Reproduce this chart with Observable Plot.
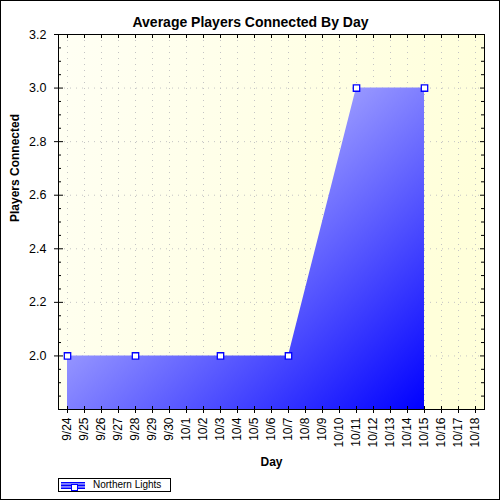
<!DOCTYPE html>
<html>
<head>
<meta charset="utf-8">
<script src="https://cdn.jsdelivr.net/npm/d3@7"></script>
<script src="https://cdn.jsdelivr.net/npm/@observablehq/plot@0.6"></script>
<style>
  body { margin: 0; background: #fff; font-family: "Liberation Sans", Arial, sans-serif; }
  #wrap { width: 498px; height: 498px; border: 1px solid #000; position: relative; overflow: hidden; background: #fff; }
  #chart svg { display: block; }
  #legend { position: absolute; left: 57px; top: 477px; width: 111px; height: 12px; border: 1px solid #000; background: #fff; }
  #legend .sw { position: absolute; left: 2px; top: 3px; width: 24px; height: 7px;
    background: linear-gradient(to bottom, #0000ff 0px, #0000ff 1px, #8f8fff 1px, #5a5aff 3px, #0000ff 3px, #0000ff 4px, #8f8fff 4px, #5a5aff 6px, #0000ff 6px); }
  #legend .mk { position: absolute; left: 10px; top: 2px; width: 5px; height: 5px; background: #fff; border: 1.3px solid #0000ff; }
  #legend .tx { position: absolute; left: 34px; top: 0px; font-size: 10px; line-height: 12px; color: #000; white-space: nowrap; }
</style>
</head>
<body>
<div id="wrap">
  <div id="chart"></div>
  <div id="legend"><div class="sw"><div class="mk"></div></div><div class="tx">Northern Lights</div></div>
</div>
<script>
const days = ["9/24","9/25","9/26","9/27","9/28","9/29","9/30","10/1","10/2","10/3","10/4","10/5","10/6","10/7","10/8","10/9","10/10","10/11","10/12","10/13","10/14","10/15","10/16","10/17","10/18"];
const pointDays = ["9/24","9/28","10/3","10/7","10/11","10/15"];
const playerValues = [2.0, 2.0, 2.0, 2.0, 3.0, 3.0];
const yDomain = [1.8, 3.2];
const yMajorTicks = [2.0, 2.2, 2.4, 2.6, 2.8, 3.0, 3.2];
const yMinorTicks = [1.85, 1.9, 1.95, 2.05, 2.1, 2.15, 2.25, 2.3, 2.35, 2.45, 2.5, 2.55, 2.65, 2.7, 2.75, 2.85, 2.9, 2.95, 3.05, 3.1, 3.15];

const data = pointDays.map((d, i) => ({day: d, value: playerValues[i]}));

const W = 498, H = 475, ML = 57, MR = 15, MT = 33, MB = 67;
const FW = W - ML - MR, FH = H - MT - MB;

const defsMark = () => {
  const defs = d3.create("svg:defs");
  const ag = defs.append("linearGradient").attr("id", "areaGrad")
    .attr("x1", 0).attr("y1", 0).attr("x2", 1).attr("y2", 1);
  ag.append("stop").attr("offset", "0%").attr("stop-color", "#ffffff");
  ag.append("stop").attr("offset", "100%").attr("stop-color", "#0000ff");
  const bg = defs.append("linearGradient").attr("id", "bgGrad")
    .attr("x1", 0).attr("y1", 0).attr("x2", 1).attr("y2", 0.3);
  bg.append("stop").attr("offset", "0%").attr("stop-color", "#fffff4");
  bg.append("stop").attr("offset", "100%").attr("stop-color", "#ffffda");
  return defs.node();
};

const grid = {stroke: "#c4c4c4", strokeDasharray: "1,5", strokeWidth: 1};

const chart = Plot.plot({
  width: W, height: H,
  marginLeft: ML, marginRight: MR, marginTop: MT, marginBottom: MB,
  style: {fontFamily: "'Liberation Sans', Arial, sans-serif", background: "transparent", color: "#000", overflow: "visible"},
  x: {type: "point", domain: days, padding: 0.5},
  y: {domain: yDomain},
  marks: [
    defsMark,
    Plot.frame({fill: "url(#bgGrad)", stroke: null}),
    Plot.ruleX(days, {x: d => d, ...grid}),
    Plot.ruleY(yMajorTicks, {y: d => d, ...grid}),
    Plot.areaY(data, {x: "day", y1: yDomain[0], y2: "value", fill: "url(#areaGrad)"}),
    Plot.dot(data, {x: "day", y: "value", symbol: "square", r: 3.6, fill: "white", stroke: "#0000ff", strokeWidth: 1.3}),
    Plot.frame({stroke: "black", strokeWidth: 1}),
    // left ticks
    Plot.tickY(yMajorTicks, {y: d => d, insetLeft: -4, insetRight: FW - 5, stroke: "black"}),
    Plot.tickY(yMinorTicks, {y: d => d, insetRight: FW - 3, stroke: "black"}),
    // right ticks
    Plot.tickY(yMajorTicks, {y: d => d, insetLeft: FW - 4, stroke: "black"}),
    Plot.tickY(yMinorTicks, {y: d => d, insetLeft: FW - 3, stroke: "black"}),
    // bottom ticks
    Plot.tickX(days, {x: d => d, insetTop: FH - 3, insetBottom: -4, stroke: "black"}),
    // top ticks
    Plot.tickX(days, {x: d => d, insetBottom: FH - 4, stroke: "black"}),
    Plot.axisY({ticks: yMajorTicks, tickSize: 0, tickPadding: 12, tickFormat: d3.format(".1f"), fontSize: 12.5, label: null}),
    Plot.axisX({tickSize: 0, tickRotate: -90, tickPadding: 8, fontSize: 12, label: null}),
    Plot.text(["Average Players Connected By Day"], {text: d => d, frameAnchor: "top", dx: -21, dy: -17, fontWeight: "bold", fontSize: 14}),
    Plot.text(["Players Connected"], {text: d => d, frameAnchor: "left", rotate: -90, dx: -43, fontWeight: "bold", fontSize: 12}),
    Plot.text(["Day"], {text: d => d, frameAnchor: "bottom", dy: 56, fontWeight: "bold", fontSize: 12})
  ]
});
document.getElementById("chart").appendChild(chart);
</script>
</body>
</html>
